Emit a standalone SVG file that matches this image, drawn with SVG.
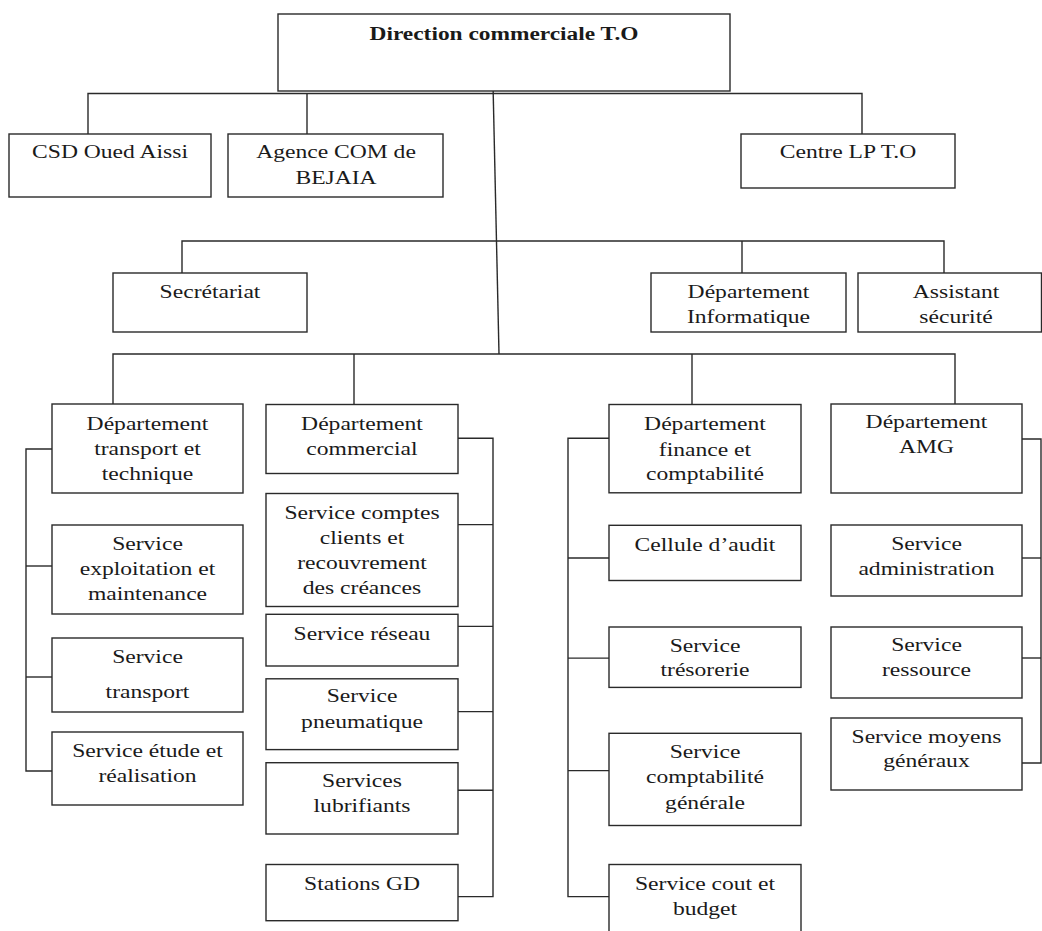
<svg xmlns="http://www.w3.org/2000/svg" width="1042" height="931" viewBox="0 0 1042 931">
<style>
rect.b{fill:#fff;stroke:#2a2a2a;stroke-width:1.4}
.c line,.c polyline{stroke:#2a2a2a;stroke-width:1.4;fill:none}
text{font-family:"Liberation Serif","Times New Roman",serif;font-size:19.5px;fill:#1a1a1a;text-anchor:middle}
text.bold{font-weight:bold}
</style>
<rect width="1042" height="931" fill="#fff"/>
<g class="c" id="connectors">
<line x1="493" y1="84" x2="499" y2="354"/>
<polyline points="88,134 88,93.5 862,93.5 862,134"/>
<line x1="307" y1="93.5" x2="307" y2="134"/>
<polyline points="182,273 182,241 944,241 944,273"/>
<line x1="742" y1="241" x2="742" y2="273"/>
<polyline points="113,404 113,354 955,354 955,404"/>
<line x1="354" y1="354" x2="354" y2="404"/>
<line x1="692" y1="354" x2="692" y2="404"/>
<polyline points="52,449 26,449 26,771 52,771"/>
<line x1="26" y1="566" x2="52" y2="566"/>
<line x1="26" y1="677" x2="52" y2="677"/>
<polyline points="458,438.3 493,438.3 493,896.6 458,896.6"/>
<line x1="458" y1="524.6" x2="493" y2="524.6"/>
<line x1="458" y1="626.4" x2="493" y2="626.4"/>
<line x1="458" y1="711.6" x2="493" y2="711.6"/>
<line x1="458" y1="790.3" x2="493" y2="790.3"/>
<polyline points="609,438.3 568,438.3 568,896.6 609,896.6"/>
<line x1="568" y1="558" x2="609" y2="558"/>
<line x1="568" y1="658.1" x2="609" y2="658.1"/>
<line x1="568" y1="770.6" x2="609" y2="770.6"/>
<polyline points="1022,439 1041,439 1041,763 1022,763"/>
<line x1="1022" y1="558" x2="1041" y2="558"/>
<line x1="1022" y1="658" x2="1041" y2="658"/>
</g>
<g id="direction"><rect class="b" x="278" y="14" width="452" height="77"/><text class="bold" transform="matrix(1.2 0 0 1 504 0)" y="40">Direction commerciale T.O</text></g>
<g id="csd"><rect class="b" x="9" y="134" width="202" height="63"/><text transform="matrix(1.21 0 0 1 110 0)" y="158">CSD Oued Aissi</text></g>
<g id="agence"><rect class="b" x="228" y="134" width="215" height="63"/><text transform="matrix(1.21 0 0 1 336 0)"><tspan x="0" y="158">Agence COM de</tspan><tspan x="0" y="184">BEJAIA</tspan></text></g>
<g id="centre"><rect class="b" x="741" y="134" width="214" height="54"/><text transform="matrix(1.21 0 0 1 848 0)" y="158">Centre LP T.O</text></g>
<g id="secretariat"><rect class="b" x="113" y="273" width="194" height="59"/><text transform="matrix(1.21 0 0 1 210 0)" y="298">Secrétariat</text></g>
<g id="informatique"><rect class="b" x="651" y="273" width="195" height="59"/><text transform="matrix(1.21 0 0 1 748.5 0)"><tspan x="0" y="298">Département</tspan><tspan x="0" y="323">Informatique</tspan></text></g>
<g id="securite"><rect class="b" x="858" y="273" width="183.5" height="59"/><text transform="matrix(1.21 0 0 1 956 0)"><tspan x="0" y="298">Assistant</tspan><tspan x="0" y="323">sécurité</tspan></text></g>

<g id="dep-transport"><rect class="b" x="52" y="404" width="191" height="89"/><text transform="matrix(1.21 0 0 1 147.5 0)"><tspan x="0" y="430">Département</tspan><tspan x="0" y="455">transport et</tspan><tspan x="0" y="480">technique</tspan></text></g>
<g id="srv-exploitation"><rect class="b" x="52" y="525" width="191" height="89"/><text transform="matrix(1.21 0 0 1 147.5 0)"><tspan x="0" y="550">Service</tspan><tspan x="0" y="575">exploitation et</tspan><tspan x="0" y="600">maintenance</tspan></text></g>
<g id="srv-transport"><rect class="b" x="52" y="638" width="191" height="74"/><text transform="matrix(1.21 0 0 1 147.5 0)"><tspan x="0" y="663">Service</tspan><tspan x="0" y="698">transport</tspan></text></g>
<g id="srv-etude"><rect class="b" x="52" y="732" width="191" height="73"/><text transform="matrix(1.21 0 0 1 147.5 0)"><tspan x="0" y="757">Service étude et</tspan><tspan x="0" y="782">réalisation</tspan></text></g>

<g id="dep-commercial"><rect class="b" x="266" y="404.5" width="192" height="69"/><text transform="matrix(1.21 0 0 1 362 0)"><tspan x="0" y="430">Département</tspan><tspan x="0" y="455">commercial</tspan></text></g>
<g id="srv-comptes"><rect class="b" x="266" y="493.5" width="192" height="113"/><text transform="matrix(1.21 0 0 1 362 0)"><tspan x="0" y="519.4">Service comptes</tspan><tspan x="0" y="543.6">clients et</tspan><tspan x="0" y="569.4">recouvrement</tspan><tspan x="0" y="593.6">des créances</tspan></text></g>
<g id="srv-reseau"><rect class="b" x="266" y="614.3" width="192" height="51.7"/><text transform="matrix(1.21 0 0 1 362 0)" y="640">Service réseau</text></g>
<g id="srv-pneu"><rect class="b" x="266" y="678.8" width="192" height="70.8"/><text transform="matrix(1.21 0 0 1 362 0)"><tspan x="0" y="702.3">Service</tspan><tspan x="0" y="728.2">pneumatique</tspan></text></g>
<g id="srv-lub"><rect class="b" x="266" y="762.7" width="192" height="71.3"/><text transform="matrix(1.21 0 0 1 362 0)"><tspan x="0" y="786.8">Services</tspan><tspan x="0" y="811.7">lubrifiants</tspan></text></g>
<g id="stations"><rect class="b" x="266" y="864.5" width="192" height="56.2"/><text transform="matrix(1.21 0 0 1 362 0)" y="889.7">Stations GD</text></g>

<g id="dep-finance"><rect class="b" x="609" y="404.5" width="192" height="88.3"/><text transform="matrix(1.21 0 0 1 705 0)"><tspan x="0" y="429.7">Département</tspan><tspan x="0" y="455.6">finance et</tspan><tspan x="0" y="480.4">comptabilité</tspan></text></g>
<g id="cellule-audit"><rect class="b" x="609" y="525.3" width="192" height="55.2"/><text transform="matrix(1.21 0 0 1 705 0)" y="551.5">Cellule d’audit</text></g>
<g id="srv-tresorerie"><rect class="b" x="609" y="627" width="192" height="60.4"/><text transform="matrix(1.21 0 0 1 705 0)"><tspan x="0" y="652.3">Service</tspan><tspan x="0" y="676.4">trésorerie</tspan></text></g>
<g id="srv-comptabilite"><rect class="b" x="609" y="733.3" width="192" height="92.2"/><text transform="matrix(1.21 0 0 1 705 0)"><tspan x="0" y="758.5">Service</tspan><tspan x="0" y="783.4">comptabilité</tspan><tspan x="0" y="809.3">générale</tspan></text></g>
<g id="srv-cout"><rect class="b" x="609" y="864.5" width="192" height="75"/><text transform="matrix(1.21 0 0 1 705 0)"><tspan x="0" y="890.3">Service cout et</tspan><tspan x="0" y="915">budget</tspan></text></g>

<g id="dep-amg"><rect class="b" x="831" y="404" width="191" height="89"/><text transform="matrix(1.21 0 0 1 926.5 0)"><tspan x="0" y="428">Département</tspan><tspan x="0" y="453">AMG</tspan></text></g>
<g id="srv-admin"><rect class="b" x="831" y="525" width="191" height="71"/><text transform="matrix(1.21 0 0 1 926.5 0)"><tspan x="0" y="550">Service</tspan><tspan x="0" y="575">administration</tspan></text></g>
<g id="srv-ressource"><rect class="b" x="831" y="627" width="191" height="71"/><text transform="matrix(1.21 0 0 1 926.5 0)"><tspan x="0" y="651">Service</tspan><tspan x="0" y="676">ressource</tspan></text></g>
<g id="srv-moyens"><rect class="b" x="831" y="718" width="191" height="72"/><text transform="matrix(1.21 0 0 1 926.5 0)"><tspan x="0" y="743">Service moyens</tspan><tspan x="0" y="767">généraux</tspan></text></g>
</svg>
